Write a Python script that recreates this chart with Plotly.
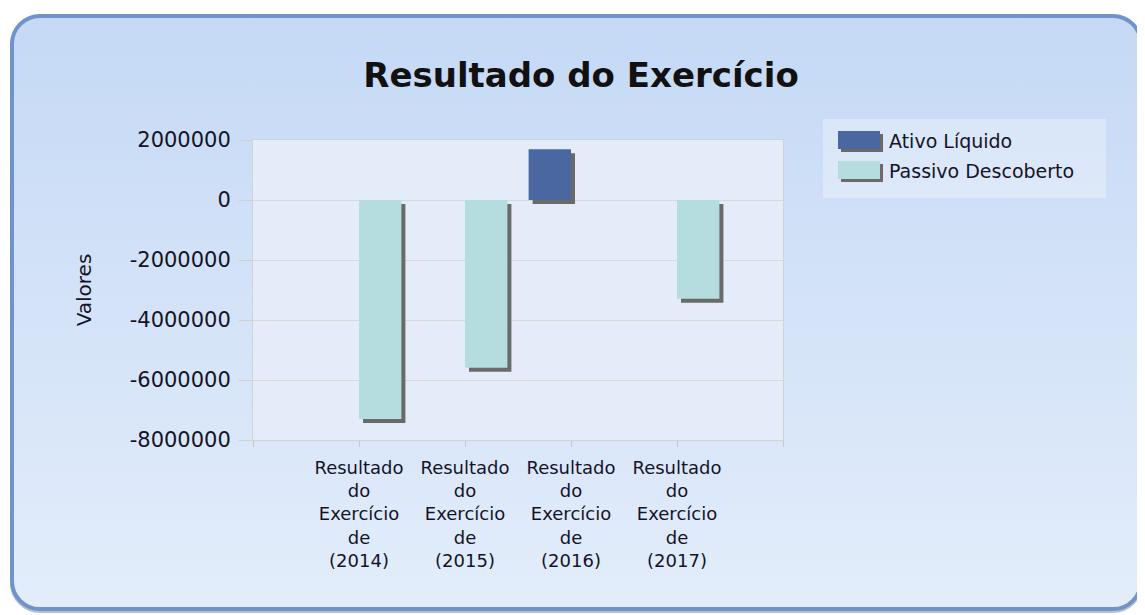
import base64
import plotly.graph_objects as go

# ---- data ----
years = ["2014", "2015", "2016", "2017"]
category_labels = [f"Resultado<br>do<br>Exercício<br>de<br>({y})" for y in years]
series_names = ["Ativo Líquido", "Passivo Descoberto"]
ativo_liquido = [None, None, 1690000, None]
passivo_descoberto = [-7300000, -5590000, None, -3290000]
y_tick_vals = [2000000, 0, -2000000, -4000000, -6000000, -8000000]
y_tick_text = [str(v) for v in y_tick_vals]

# ---- styles ----
FONT = "DejaVu Sans"
TXT = "#141428"
C_ATIVO = "#4a67a1"
C_PASSIVO = "#b5dcdf"
C_SHADOW = "#6a6a6a"
FIG_W, FIG_H = 1137, 607          # page body has an 8px margin
PLOT_W, PLOT_H = 530, 300
L, T = 245, 132
Y_MIN, Y_MAX = -8000000, 2000000
X_MIN, X_MAX = -1, len(years)
BAR_W = 0.4
shadow_dx = 4 * (X_MAX - X_MIN) / PLOT_W
shadow_dy = 4 * (Y_MAX - Y_MIN) / PLOT_H


def px_x(px):
    return (px - L) / PLOT_W


def px_y(py):
    return (T + PLOT_H - py) / PLOT_H


xpos = list(range(len(years)))

fig = go.Figure()

# shadows
fig.add_trace(go.Bar(x=xpos, y=ativo_liquido, base=-shadow_dy, offset=-BAR_W + shadow_dx,
                     width=BAR_W, marker=dict(color=C_SHADOW, line=dict(width=0)),
                     showlegend=False, hoverinfo="skip"))
fig.add_trace(go.Bar(x=xpos, y=passivo_descoberto, base=-shadow_dy, offset=shadow_dx,
                     width=BAR_W, marker=dict(color=C_SHADOW, line=dict(width=0)),
                     showlegend=False, hoverinfo="skip"))
# bars
fig.add_trace(go.Bar(x=xpos, y=ativo_liquido, offset=-BAR_W, width=BAR_W, name=series_names[0],
                     marker=dict(color=C_ATIVO, line=dict(width=0)), showlegend=False))
fig.add_trace(go.Bar(x=xpos, y=passivo_descoberto, offset=0, width=BAR_W, name=series_names[1],
                     marker=dict(color=C_PASSIVO, line=dict(width=0)), showlegend=False))

# ---- background panel (rounded, gradient) ----
svg = f"""<svg xmlns="http://www.w3.org/2000/svg" width="{FIG_W}" height="{FIG_H}" viewBox="0 0 {FIG_W} {FIG_H}" preserveAspectRatio="none">
<defs><linearGradient id="g" x1="0" y1="0" x2="0" y2="1">
<stop offset="0" stop-color="#c5d9f5"/><stop offset="1" stop-color="#e3edfb"/></linearGradient></defs>
<rect x="4" y="10" width="1129" height="593" rx="28" ry="28" fill="none" stroke="#8e98a8" stroke-opacity="0.6" stroke-width="4"/>
<rect x="4" y="8" width="1129" height="593" rx="28" ry="28" fill="url(#g)" stroke="#7093c9" stroke-width="4"/>
</svg>"""
src = "data:image/svg+xml;base64," + base64.b64encode(svg.encode("utf-8")).decode("ascii")

fig.add_layout_image(dict(source=src, xref="paper", yref="paper",
                          x=px_x(0), y=px_y(0),
                          sizex=FIG_W / PLOT_W, sizey=FIG_H / PLOT_H,
                          xanchor="left", yanchor="top", sizing="stretch", layer="below"))
fig.add_shape(type="rect", xref="paper", yref="paper", x0=0, x1=1, y0=0, y1=1,
              fillcolor="#e4ecf9", line=dict(width=0), layer="below")

# ---- legend box ----
fig.add_shape(type="rect", xref="paper", yref="paper",
              x0=px_x(815), x1=px_x(1098), y0=px_y(190), y1=px_y(111),
              fillcolor="rgba(255,255,255,0.30)", line=dict(width=0), layer="below")
for i, (name, col) in enumerate(zip(series_names, [C_ATIVO, C_PASSIVO])):
    top = 123 + i * 30
    fig.add_shape(type="rect", xref="paper", yref="paper",
                  x0=px_x(833), x1=px_x(875), y0=px_y(top + 21), y1=px_y(top + 3),
                  fillcolor=C_SHADOW, line=dict(width=0), layer="above")
    fig.add_shape(type="rect", xref="paper", yref="paper",
                  x0=px_x(830), x1=px_x(872), y0=px_y(top + 18), y1=px_y(top),
                  fillcolor=col, line=dict(width=0), layer="above")
    fig.add_annotation(xref="paper", yref="paper", x=px_x(879), y=px_y(top + 10),
                       text=name, showarrow=False, xanchor="left", yanchor="middle",
                       font=dict(size=19, family=FONT, color=TXT))

fig.update_layout(
    width=FIG_W, height=FIG_H,
    margin=dict(l=L, r=FIG_W - L - PLOT_W, t=T, b=FIG_H - T - PLOT_H, pad=0),
    paper_bgcolor="white", plot_bgcolor="rgba(0,0,0,0)",
    barmode="overlay", showlegend=False,
    font=dict(family=FONT, color=TXT),
    title=dict(text="<b>Resultado do Exercício</b>", font=dict(size=34, family=FONT, color="#111"),
               x=573 / FIG_W, xref="container", xanchor="center",
               y=1 - 67 / FIG_H, yref="container", yanchor="middle"),
    xaxis=dict(range=[X_MIN, X_MAX], tickmode="array",
               tickvals=list(range(X_MIN, X_MAX + 1)),
               ticktext=[""] + category_labels + [""],
               tickfont=dict(size=18, family=FONT, color=TXT),
               ticks="outside", ticklen=6, tickcolor="#c9c9c9", ticklabelstandoff=5,
               showgrid=False, zeroline=False, showline=True, linecolor="#d2d2d2",
               mirror=True, automargin=False, fixedrange=True),
    yaxis=dict(range=[Y_MIN, Y_MAX], tickmode="array", tickvals=y_tick_vals, ticktext=y_tick_text,
               tickfont=dict(size=21, family=FONT, color=TXT),
               ticks="outside", ticklen=13, tickcolor="#d0d0d0", ticklabelstandoff=4,
               showgrid=True, gridcolor="#d8d8d8", gridwidth=1, zeroline=False,
               showline=True, linecolor="#d2d2d2", mirror=True,
               title=dict(text="Valores", font=dict(size=20, family=FONT, color=TXT), standoff=32),
               automargin=False, fixedrange=True),
)

fig.write_html("out.html")
